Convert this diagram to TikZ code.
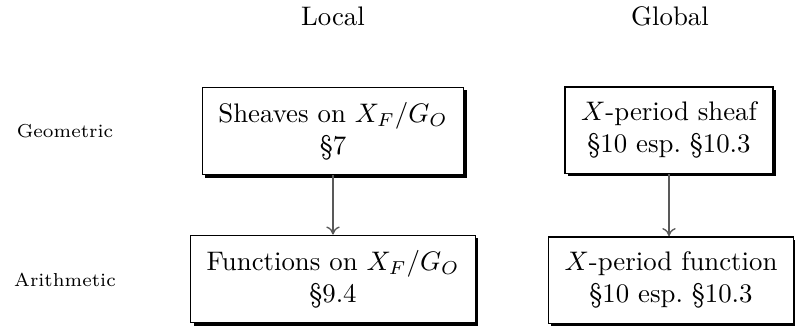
\documentclass[tikz,border=0pt]{standalone}
\usetikzlibrary{shadows,arrows.meta}
\tikzset{
  box/.style={draw=black, fill=white, line width=0.5pt, align=center, inner xsep=6pt, inner ysep=5.5pt,
    drop shadow={shadow xshift=1.1pt, shadow yshift=-1.1pt, fill=black, opacity=1}},
  lab/.style={font=\scriptsize},
  head/.style={},
  conn/.style={draw=black!65, line width=0.5pt, -{To[length=3pt,width=5pt]}}
}
\begin{document}
\begin{tikzpicture}[x=0.373pt,y=-0.373pt]
\useasboundingbox (0,0) rectangle (795,328);
\node[head] (local) at (333,16) {Local};
\node[head] (global) at (670,16) {Global};
\node[lab] (geo) at (65,131) {Geometric};
\node[lab] (ari) at (65,280) {Arithmetic};
\node[box] (sheaves) at (333,131) {Sheaves on $X_F/G_O$\\ \S7};
\node[box] (functions) at (333,279) {Functions on $X_F/G_O$\\ \S9.4};
\node[box] (psheaf) at (669,130) {$X$-period sheaf\\ \S10 esp.\ \S10.3};
\node[box] (pfunc) at (671,280) {$X$-period function\\ \S10 esp.\ \S10.3};
\draw[conn] (sheaves) -- (functions);
\draw[conn] (psheaf.south -| 669,0) -- (pfunc.north -| 669,0);
\end{tikzpicture}
\end{document}
